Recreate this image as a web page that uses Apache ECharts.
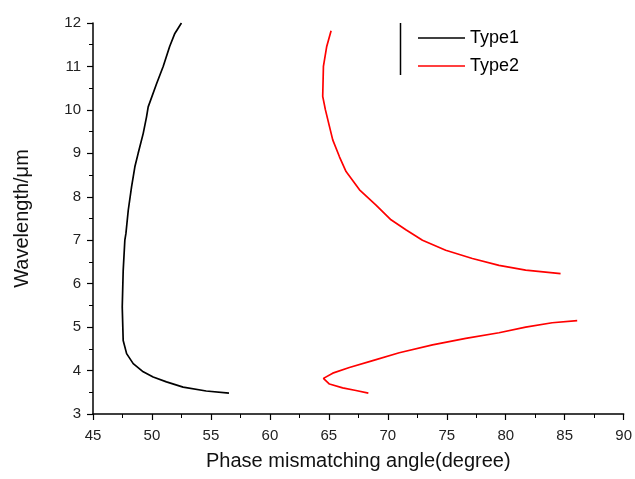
<!DOCTYPE html>
<html>
<head>
<meta charset="utf-8">
<script src="https://cdn.jsdelivr.net/npm/echarts@6/dist/echarts.min.js"></script>
<style>
  html, body { margin: 0; padding: 0; background: #fff; }
  #chart { width: 635px; height: 479px; }
</style>
</head>
<body>
<div id="chart"></div>
<script>
// values: [angle (degree), wavelength (um)]
const type1 = [
  [52.5, 12.0], [51.94, 11.76], [51.5, 11.46], [50.95, 11.0], [50.39, 10.6],
  [49.68, 10.07], [49.54, 9.84], [49.26, 9.46], [48.83, 9.0], [48.55, 8.69],
  [48.27, 8.23], [47.99, 7.69], [47.79, 7.15], [47.7, 7.0], [47.56, 6.3],
  [47.48, 5.46], [47.56, 4.69], [47.85, 4.39], [48.41, 4.16], [49.26, 3.97],
  [50.1, 3.85], [51.23, 3.74], [52.64, 3.62], [54.6, 3.53], [56.53, 3.48]
]
// Type2 upper branch (above the gap)
const type2Upper = [
  [65.19, 11.82], [64.82, 11.46], [64.54, 11.0], [64.48, 10.31], [64.71, 10.0],
  [65.05, 9.62], [65.33, 9.31], [65.9, 8.92], [66.46, 8.58], [67.6, 8.16],
  [69.0, 7.81], [70.27, 7.47], [71.53, 7.24], [72.94, 7.0], [74.91, 6.77],
  [77.17, 6.58], [79.43, 6.42], [81.69, 6.31], [84.65, 6.23]
]
// Type2 lower branch
const type2Lower = [
  [86.06, 5.15], [83.94, 5.1], [81.69, 5.0], [79.43, 4.87], [76.61, 4.74],
  [73.79, 4.59], [70.97, 4.41], [68.72, 4.23], [66.74, 4.07], [65.33, 3.94],
  [64.54, 3.82], [65.05, 3.69], [66.17, 3.6], [67.3, 3.54], [68.35, 3.48]
]

const font = 'Liberation Sans, Arial, sans-serif'
const chart = echarts.init(document.getElementById('chart'))

const axisCommon = {
  axisLine: { lineStyle: { color: '#000', width: 1.5 } },
  axisTick: { show: true, inside: false, length: 6, lineStyle: { color: '#000', width: 1.2 } },
  minorTick: { show: true, splitNumber: 2, length: 4, lineStyle: { color: '#000', width: 1 } },
  splitLine: { show: false },
  nameTextStyle: { color: '#111', fontFamily: font, fontSize: 20 }
}

chart.setOption({
  animation: false,
  backgroundColor: '#fff',
  grid: { left: 93, right: 10, top: 23, bottom: 65 },
  xAxis: Object.assign({
    type: 'value', min: 45, max: 90, interval: 5,
    name: 'Phase mismatching angle(degree)', nameLocation: 'middle', nameGap: 37,
    axisLabel: { color: '#222', fontFamily: font, fontSize: 15, margin: 14 }
  }, axisCommon),
  yAxis: Object.assign({
    type: 'value', min: 3, max: 12, interval: 1,
    name: 'Wavelength/\u03bcm', nameLocation: 'middle', nameGap: 61,
    axisLabel: { color: '#222', fontFamily: font, fontSize: 15, margin: 12 }
  }, axisCommon),
  legend: {
    orient: 'vertical', left: 413, top: 24, itemWidth: 47, itemHeight: 14, itemGap: 10,
    icon: 'path://M0,6 L47,6 L47,7.5 L0,7.5 Z',
    textStyle: { color: '#000', fontFamily: font, fontSize: 18 },
    data: ['Type1', 'Type2']
  },
  graphic: [{
    type: 'line', shape: { x1: 400.5, y1: 23, x2: 400.5, y2: 75 },
    style: { stroke: '#000', lineWidth: 1.5 }
  }],
  series: [
    { name: 'Type1', type: 'line', data: type1, showSymbol: false,
      lineStyle: { color: '#000', width: 1.7 }, itemStyle: { color: '#000' } },
    { name: 'Type2', type: 'line', data: type2Upper, showSymbol: false,
      lineStyle: { color: '#ff0000', width: 1.7 }, itemStyle: { color: '#ff0000' } },
    { name: 'Type2', type: 'line', data: type2Lower, showSymbol: false,
      lineStyle: { color: '#ff0000', width: 1.7 }, itemStyle: { color: '#ff0000' } }
  ]
})
</script>
</body>
</html>
